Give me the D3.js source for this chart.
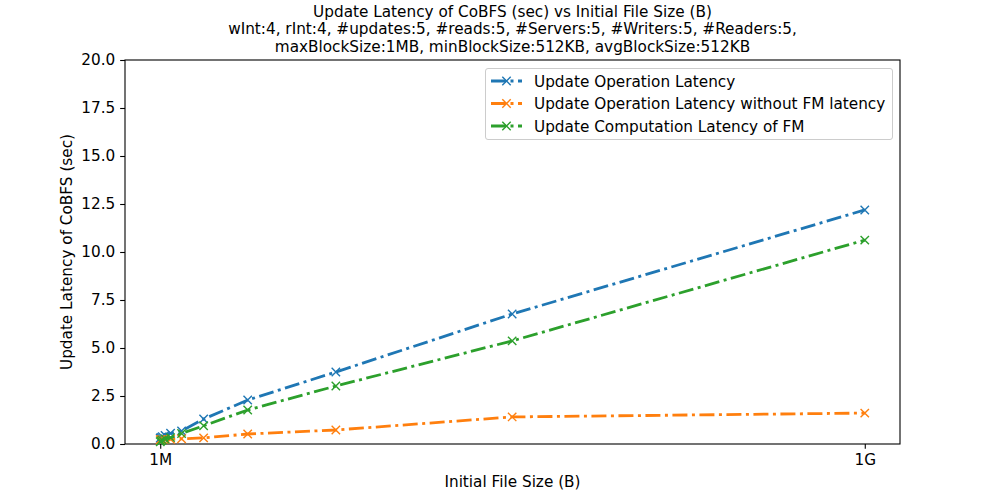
<!DOCTYPE html>
<html><head><meta charset="utf-8">
<script src="https://cdn.jsdelivr.net/npm/d3@7"></script>
<style>body{margin:0;background:#fff}</style>
</head><body><svg id="c" width="1000" height="500"></svg>
<script>
const sizesMB = [1, 2, 4, 8, 16, 32, 64, 128, 256, 512, 1024];
const opLatency = [0.30, 0.34, 0.38, 0.45, 0.56, 0.68, 1.30, 2.29, 3.75, 6.77, 12.19];
const opNoFM = [0.22, 0.22, 0.23, 0.24, 0.25, 0.27, 0.32, 0.52, 0.73, 1.41, 1.61];
const fmLatency = [0.12, 0.16, 0.20, 0.26, 0.33, 0.55, 0.95, 1.77, 3.02, 5.37, 10.62];
const seriesNames = ["Update Operation Latency", "Update Operation Latency without FM latency", "Update Computation Latency of FM"];
const colors = ["#1f77b4", "#ff7f0e", "#2ca02c"];
const yTicks = [0, 2.5, 5, 7.5, 10, 12.5, 15, 17.5, 20];
const xTickVals = [1, 1024];
const xTickLabels = ["1M", "1G"];
const titleLines = ["Update Latency of CoBFS (sec) vs Initial File Size (B)",
  "wInt:4, rInt:4, #updates:5, #reads:5, #Servers:5, #Writers:5, #Readers:5,",
  "maxBlockSize:1MB, minBlockSize:512KB, avgBlockSize:512KB"];

const svg = d3.select("#c");
const L = 125, R = 900, T = 60, B = 444;
const span = 1024 - 1, m = span * 0.05;
const x = d3.scaleLinear().domain([1 - m, 1024 + m]).range([L, R]);
const y = d3.scaleLinear().domain([0, 20]).range([B, T]);
const font = "'DejaVu Sans', sans-serif";
const fs = "15.28px";

// axes
const ya = svg.append("g").attr("transform", `translate(${L},0)`)
  .call(d3.axisLeft(y).tickValues(yTicks).tickFormat(d3.format(".1f")).tickSize(4.86).tickPadding(4.86));
const xa = svg.append("g").attr("transform", `translate(0,${B})`)
  .call(d3.axisBottom(x).tickValues(xTickVals).tickFormat((d, i) => xTickLabels[i]).tickSize(4.86).tickPadding(4.86));
[ya, xa].forEach(a => {
  a.select(".domain").remove();
  a.selectAll("line").attr("stroke", "#000").attr("stroke-width", 1.1);
  a.selectAll("text").attr("font-family", font).attr("font-size", fs).attr("fill", "#000");
});

svg.append("rect").attr("x", L).attr("y", T).attr("width", R - L).attr("height", B - T)
  .attr("fill", "none").attr("stroke", "#000").attr("stroke-width", 1.1);

// lines
const data = [opLatency, opNoFM, fmLatency];
const line = d3.line().x((d, i) => x(sizesMB[i])).y(d => y(d));
const dash = "15,4.5,3,4.5";
function xMark(g, cx, cy, col) {
  const s = 4.2;
  g.append("path").attr("d", `M${cx - s},${cy - s}L${cx + s},${cy + s}M${cx - s},${cy + s}L${cx + s},${cy - s}`)
    .attr("stroke", col).attr("stroke-width", 1.4).attr("fill", "none");
}
const plot = svg.append("g");
data.forEach((vals, k) => {
  plot.append("path").datum(vals).attr("d", line).attr("fill", "none")
    .attr("stroke", colors[k]).attr("stroke-width", 2.8).attr("stroke-dasharray", dash);
  vals.forEach((v, i) => xMark(plot, x(sizesMB[i]), y(v), colors[k]));
});

// legend
const lg = svg.append("g");
lg.append("rect").attr("x", 485.5).attr("y", 68.5).attr("width", 407).attr("height", 71).attr("rx", 2.5)
  .attr("fill", "#fff").attr("fill-opacity", 0.8).attr("stroke", "#ccc").attr("stroke-width", 1);
seriesNames.forEach((n, k) => {
  const yy = 81 + k * 22.5;
  lg.append("line").attr("x1", 491).attr("x2", 522).attr("y1", yy).attr("y2", yy)
    .attr("stroke", colors[k]).attr("stroke-width", 2.8).attr("stroke-dasharray", dash);
  xMark(lg, 506.5, yy, colors[k]);
  lg.append("text").attr("x", 534).attr("y", yy).attr("dy", "0.36em").attr("font-family", font)
    .attr("font-size", fs).text(n);
});

// title & labels
titleLines.forEach((t, i) => {
  svg.append("text").attr("x", 512.5).attr("y", 16.5 + i * 17.5).attr("text-anchor", "middle")
    .attr("font-family", font).attr("font-size", fs).text(t);
});
svg.append("text").attr("x", 512.5).attr("y", 487).attr("text-anchor", "middle")
  .attr("font-family", font).attr("font-size", fs).text("Initial File Size (B)");
svg.append("text").attr("transform", `translate(72,${(T + B) / 2}) rotate(-90)`).attr("text-anchor", "middle")
  .attr("font-family", font).attr("font-size", fs).text("Update Latency of CoBFS (sec)");
</script></body></html>
